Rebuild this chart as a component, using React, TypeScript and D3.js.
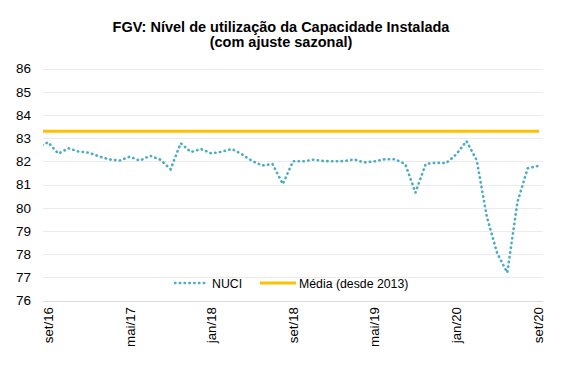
import React from "react";
import * as d3 from "d3";

const categories: string[] = [
  "ago/16",
  "set/16", "out/16", "nov/16", "dez/16", "jan/17", "fev/17", "mar/17", "abr/17",
  "mai/17", "jun/17", "jul/17", "ago/17", "set/17", "out/17", "nov/17", "dez/17",
  "jan/18", "fev/18", "mar/18", "abr/18", "mai/18", "jun/18", "jul/18", "ago/18",
  "set/18", "out/18", "nov/18", "dez/18", "jan/19", "fev/19", "mar/19", "abr/19",
  "mai/19", "jun/19", "jul/19", "ago/19", "set/19", "out/19", "nov/19", "dez/19",
  "jan/20", "fev/20", "mar/20", "abr/20", "mai/20", "jun/20", "jul/20", "ago/20",
  "set/20",
];

const nuci: number[] = [
  82.6,
  82.82, 82.33, 82.56, 82.42, 82.37, 82.21, 82.08, 82.03,
  82.2, 82.03, 82.24, 82.07, 81.66, 82.78, 82.4, 82.53,
  82.34, 82.41, 82.53, 82.3, 82.01, 81.82, 81.88, 81.02,
  82.0, 82.0, 82.07, 82.01, 82.0, 82.01, 82.08, 81.95,
  82.0, 82.09, 82.09, 81.88, 80.65, 81.88, 81.94, 81.92,
  82.3, 82.87, 82.05, 79.6, 78.05, 77.2, 80.25, 81.7,
  81.8,
];

const media: number = 83.3;

const tickLabels: string[] = ["set/16", "mai/17", "jan/18", "set/18", "mai/19", "jan/20", "set/20"];
const yTicks: number[] = [76, 77, 78, 79, 80, 81, 82, 83, 84, 85, 86];

const titleLines: string[] = ["FGV: Nível de utilização da Capacidade Instalada", "(com ajuste sazonal)"];
const seriesNames: string[] = ["NUCI", "Média (desde 2013)"];

const W = 578;
const H = 370;
const left = 43;
const right = 543;
const top = 68.5;
const bottom = 300.5;
const font = "'Liberation Sans', Arial, sans-serif";
const teal = "#4BACC6";
const gold = "#FFC000";

export default function App() {
  const x = d3.scaleLinear().domain([0.5, categories.length - 0.5]).range([left, right]);
  const y = d3.scaleLinear().domain([76, 86]).range([bottom, top]);
  const line = d3
    .line<number>()
    .x((_, i) => x(i))
    .y((d) => y(d));
  const dash = "0.4 4.4";

  return (
    <svg
      width={W}
      height={H}
      style={{ position: "absolute", left: 0, top: 0, background: "#fff" }}
      fontFamily={font}
    >
      <defs>
        <clipPath id="plot">
          <rect x={left} y={top - 10} width={right - left} height={bottom - top + 20} />
        </clipPath>
      </defs>
      <text x={281} y={31.5} textAnchor="middle" fontSize={14.5} fontWeight="bold" fill="#000">
        {titleLines[0]}
      </text>
      <text x={281} y={47} textAnchor="middle" fontSize={14.5} fontWeight="bold" fill="#000">
        {titleLines[1]}
      </text>
      {yTicks.map((t) => (
        <g key={t}>
          <line
            x1={left}
            x2={right}
            y1={Math.round(y(t)) + 0.5}
            y2={Math.round(y(t)) + 0.5}
            stroke={t === 76 ? "#D9D9D9" : "#EBEBEB"}
            strokeWidth={1}
          />
          <text x={31} y={y(t)} dy="0.36em" textAnchor="end" fontSize={13.5} fill="#000">
            {t}
          </text>
        </g>
      ))}
      {tickLabels.map((lab) => {
        const i = categories.indexOf(lab);
        const xp = x(i);
        return (
          <text
            key={lab}
            transform={`translate(${xp},307) rotate(-90)`}
            textAnchor="end"
            dy="0.36em"
            fontSize={13.3}
            fill="#000"
          >
            {lab}
          </text>
        );
      })}
      <line x1={left} x2={right - 4} y1={y(media)} y2={y(media)} stroke={gold} strokeWidth={3} />
      <path
        d={line(nuci) || ""}
        fill="none"
        stroke={teal}
        strokeWidth={2.6}
        strokeLinecap="round"
        strokeDasharray={dash}
        clipPath="url(#plot)"
      />
      <g>
        <line x1={175} x2={208} y1={283} y2={283} stroke={teal} strokeWidth={2.6} strokeLinecap="round" strokeDasharray={dash} />
        <text x={212} y={287.5} fontSize={12.3} fill="#000">
          {seriesNames[0]}
        </text>
        <line x1={260} x2={296} y1={283} y2={283} stroke={gold} strokeWidth={3} />
        <text x={299} y={287.5} fontSize={12.3} fill="#000">
          {seriesNames[1]}
        </text>
      </g>
    </svg>
  );
}
